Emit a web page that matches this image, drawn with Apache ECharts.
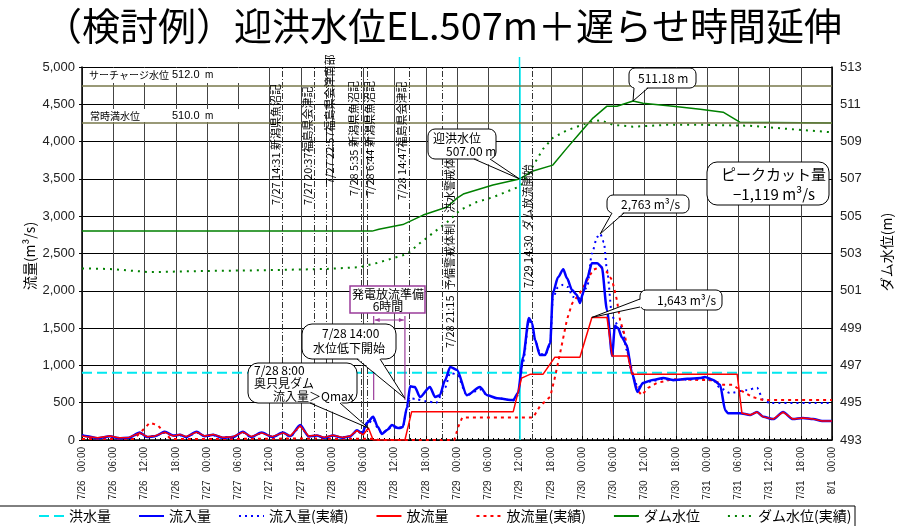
<!DOCTYPE html>
<html><head><meta charset="utf-8">
<script src="https://cdn.jsdelivr.net/npm/echarts@6.0.0/dist/echarts.min.js"></script>
<style>html,body{margin:0;padding:0;background:#fff;}#chart{width:897px;height:526px;}</style>
</head><body><div id="chart"></div>
<script>
// ---------------- DATA ----------------
const titleText = '（検討例）迎洪水位EL.507m＋遅らせ時間延伸';
// x = hours since 7/26 00:00
const tickLabels = ['7/26   00:00','7/26   06:00','7/26   12:00','7/26   18:00',
  '7/27   00:00','7/27   06:00','7/27   12:00','7/27   18:00',
  '7/28   00:00','7/28   06:00','7/28   12:00','7/28   18:00',
  '7/29   00:00','7/29   06:00','7/29   12:00','7/29   18:00',
  '7/30   00:00','7/30   06:00','7/30   12:00','7/30   18:00',
  '7/31   00:00','7/31   06:00','7/31   12:00','7/31   18:00','8/1   00:00'];
const levelTicks = [493,495,497,499,501,503,505,507,509,511,513];
const seriesNames = ['洪水量','流入量','流入量(実績)','放流量','放流量(実績)','ダム水位','ダム水位(実績)'];

const floodFlow = [[0,900],[144,900]];

const inflowSim = [[0,60],[1,50],[3,25],[5.4,50],[7,25],[9,30],[11.1,100],[12.5,40],[14,50],[15.9,110],[17.5,60],[18.8,70],[20,40],[22,110],[23.5,50],[25.2,70],[27,30],[29,40],[30.9,110],[32.5,40],[34.5,100],[36.5,40],[38.6,100],[40,50],[41.9,200],[43.5,50],[45.1,60],[46.5,30],[48.2,60],[50,30],[51.5,50],[52.8,130],[53.8,90],[54.7,230],[55.9,310],[56.8,175],[57.6,80],[58.6,135],[59.5,200],[60.7,160],[61.6,175],[62.4,440],[63,720],[63.9,710],[64.9,575],[66.8,710],[67.8,575],[68.7,600],[69.7,800],[70.7,980],[72,940],[73.9,600],[76.4,710],[77.8,600],[79.7,560],[82.8,535],[83.7,630],[84.7,1110],[85.8,1635],[86.4,1570],[87,1340],[87.9,1140],[88.9,1140],[89.9,1300],[90.4,1970],[91.4,2180],[92.4,2290],[93.1,2170],[94.1,2010],[95,1945],[95.6,1835],[96.2,1970],[97,2170],[97.9,2370],[98.9,2370],[99.8,2320],[100.8,1740],[101.8,1125],[102.3,1530],[102.9,1500],[103.7,1370],[104.6,1270],[105.6,900],[106.6,645],[107.7,765],[109.6,805],[111.6,830],[113.5,805],[116.2,820],[118.7,830],[119.6,845],[121.2,805],[122.5,740],[123.5,400],[124,360],[126.3,360],[128.3,335],[129.6,375],[130.8,310],[132.7,280],[134.6,375],[136.5,280],[138.4,295],[140.4,280],[142.1,255],[144,255]];

const inflowObs = [[0,70],[1,45],[3,20],[5.4,45],[7,30],[9,25],[11.1,90],[12.5,45],[14,55],[15.9,100],[17.5,55],[18.8,65],[20,35],[22,100],[23.5,55],[25.2,60],[27,35],[29,45],[30.9,100],[32.5,35],[34.5,95],[36.5,45],[38.6,90],[40,45],[41.9,180],[43.5,55],[45.1,55],[46.5,35],[48.2,55],[50,35],[51.5,45],[52.8,120],[53.8,80],[54.7,200],[55.9,280],[56.8,160],[57.6,90],[58.6,130],[59.5,180],[60.7,150],[61.6,170],[62.4,420],[63,560],[64,550],[66,520],[68,500],[69.7,700],[70.7,900],[72,880],[73.9,600],[76.4,680],[77.8,600],[79.7,560],[82.8,530],[83.7,600],[84.7,1050],[85.8,1600],[86.4,1550],[87,1330],[88,1150],[89,1150],[89.9,1280],[90.4,1900],[91.4,2050],[92.4,2080],[93.3,2050],[94.2,1920],[95.6,1900],[97,2050],[97.9,2500],[98.9,2720],[99.5,2763],[100.2,2650],[100.8,2280],[101.8,1650],[102.9,1540],[103.7,1510],[104.6,1200],[105.8,840],[106.8,700],[107.7,760],[109.6,790],[111.6,820],[113.5,800],[116.2,810],[118.7,820],[121.2,800],[122.5,700],[124.4,630],[127.7,670],[129.6,700],[130.8,535],[132.1,495],[144,495]];

const outflowSim = [[0,55],[1,45],[3,30],[5.4,55],[7,30],[9,35],[11.1,95],[12.5,45],[14,55],[15.9,105],[17.5,55],[18.8,75],[20,45],[22,105],[23.5,55],[25.2,75],[27,35],[29,45],[30.9,105],[32.5,45],[34.5,95],[36.5,45],[38.6,95],[40,55],[41.9,190],[43.5,55],[45.1,65],[46.5,35],[48.2,65],[50,35],[51.5,55],[52.8,125],[54,70],[55,160],[55.9,0],[62,0],[63.3,380],[82.8,380],[84.4,830],[86,880],[88.5,880],[90.8,1110],[95.6,1110],[97.9,1643],[100.8,1643],[101.8,1125],[104.8,1125],[105.6,880],[125.8,880],[126.7,360],[128.3,335],[129.6,375],[130.8,310],[132.7,280],[134.6,375],[136.5,280],[138.4,295],[140.4,280],[142.1,255],[144,255]];

const outflowObs = [[0,15],[10,15],[11.5,120],[13,230],[14.5,200],[16,90],[17,15],[30,15],[42,20],[56,15],[57,0],[71.5,0],[72.2,170],[73,300],[86.6,300],[87.9,450],[89.9,580],[90.8,840],[91.8,1165],[93.1,1610],[94.1,1830],[95.6,1970],[97,2140],[98.1,2280],[99.5,2320],[100.8,2250],[101.8,2140],[102.7,1875],[103.3,1610],[104.3,1380],[104.8,1165],[105.8,880],[106.6,670],[107.5,600],[108.7,700],[110.4,765],[113.5,815],[118.7,805],[121.2,800],[123.1,740],[125,740],[126.3,670],[128.8,575],[130.8,535],[144,535]];

const levelSim = [[0,504.2],[55.7,504.2],[57,504.3],[61.6,504.55],[65.5,505.06],[70.1,505.49],[72,505.97],[73.2,506.19],[78.9,506.67],[84,507.0],[86.6,507.42],[90.4,507.74],[93.1,508.65],[95.6,509.46],[98.1,510.26],[100.8,510.9],[102.7,510.9],[105.8,511.18],[107.7,511.06],[113.5,510.9],[118.7,510.74],[123.1,510.58],[126.3,510.04],[144,510.0]];

const levelObs = [[0,502.2],[5.4,502.17],[13,502.0],[22.7,502.06],[34.2,502.1],[47,502.17],[53.4,502.27],[56.6,502.49],[62.4,502.97],[64.9,503.56],[67.4,504.1],[70.1,504.68],[72.6,505.33],[75.8,505.76],[78.9,506.02],[84.1,506.6],[86.6,507.7],[88.5,508.6],[90.4,509.2],[93.1,509.6],[97,510.0],[99.5,510.15],[102,509.9],[105.8,509.8],[112.3,509.9],[118.7,509.9],[128.3,509.85],[134.6,509.7],[144,509.5]];

const surchargeLevel = 512.0;
const normalLevel = 510.0;
const dischargeStartHour = 84;   // cyan line 7/29 12:00
const eventHours = [38.52, 44.62, 46.95, 53.58, 54.73, 62.78, 69.25, 86.5];
const eventLabels = ['7/27 14:31 新潟県魚沼記','7/27 20:37福島県会津記','7/27 22:57福島県会津南部','7/28 5:35 新潟県魚沼記','7/28 6:44 新潟県魚沼記','7/28 14:47福島県会津記','7/28 21:15','7/29 14:30  ダム放流開始'];
const prepHours = [56, 62];

// ---------------- CHART ----------------
const FONT = "'Liberation Sans', 'Noto Sans CJK JP', sans-serif";
const JP = "'Noto Sans CJK JP', sans-serif";
const chart = echarts.init(document.getElementById('chart'));

const dash = [6,2,1,2];
const option = {
  animation: false,
  grid: {left: 82, right: 65, top: 67, bottom: 86},
  legend: {
    left: 38, top: 509, padding: 0, itemWidth: 25, itemHeight: 10, itemGap: 27,
    itemStyle: {opacity: 0, borderWidth: 0},
    textStyle: {fontSize: 14, color: '#000', fontFamily: JP},
    data: seriesNames
  },
  xAxis: {
    type: 'value', min: 0, max: 144, interval: 6,
    axisLine: {lineStyle: {color: '#000', width: 1.5}},
    axisTick: {inside: true, length: 4, lineStyle: {color: '#000'}},
    minorTick: {show: true, splitNumber: 6, length: 2, lineStyle: {color: '#000'}},
    splitLine: {show: true, lineStyle: {color: '#444', width: 1}},
    axisLabel: {rotate: 90, fontSize: 10, color: '#222', margin: 7, fontFamily: FONT,
      formatter: v => tickLabels[Math.round(v / 6)]}
  },
  yAxis: [{
    type: 'value', min: 0, max: 5000, interval: 500, position: 'left',
    axisLine: {show: true, lineStyle: {color: '#000', width: 1.5}},
    axisTick: {show: true, length: 3, lineStyle: {color: '#000'}},
    splitLine: {lineStyle: {color: '#000', width: 1}},
    axisLabel: {fontSize: 13, color: '#222', margin: 7, fontFamily: FONT,
      formatter: v => v.toLocaleString('en-US')}
  }, {
    type: 'value', min: 493, max: 513, position: 'right',
    axisLine: {show: true, lineStyle: {color: '#000', width: 1.5}},
    axisTick: {show: true, inside: true, length: 4, customValues: levelTicks, lineStyle: {color: '#000'}},
    splitLine: {show: false},
    axisLabel: {fontSize: 13, color: '#222', margin: 8, fontFamily: FONT, customValues: levelTicks}
  }],
  series: [
    {name: seriesNames[0], type: 'line', data: floodFlow, symbol: 'none', z: 3,
      lineStyle: {color: '#00e8f0', width: 2, type: [10, 5]}, itemStyle: {color: '#00e8f0'},
      markLine: {symbol: 'none', silent: true, label: {show: false},
        data: eventHours.map(h => ({xAxis: h, lineStyle: {color: '#333', width: 1, type: dash}}))
          .concat([{xAxis: dischargeStartHour, lineStyle: {color: '#00e8f0', width: 1.5, type: 'solid'}}])}
    },
    {name: seriesNames[1], type: 'line', data: inflowSim, symbol: 'none', smooth: 0.25, smoothMonotone: 'x', z: 5,
      lineStyle: {color: '#0000ff', width: 2.5}, itemStyle: {color: '#0000ff'}},
    {name: seriesNames[2], type: 'line', data: inflowObs, symbol: 'none', smooth: 0.25, smoothMonotone: 'x', z: 4,
      lineStyle: {color: '#0000ff', width: 2, type: [2, 4]}, itemStyle: {color: '#0000ff'}},
    {name: seriesNames[3], type: 'line', data: outflowSim, symbol: 'none', z: 6,
      lineStyle: {color: '#ff0000', width: 1.5}, itemStyle: {color: '#ff0000'}},
    {name: seriesNames[4], type: 'line', data: outflowObs, symbol: 'none', z: 4,
      lineStyle: {color: '#ff0000', width: 2, type: [3, 4]}, itemStyle: {color: '#ff0000'}},
    {name: seriesNames[5], type: 'line', yAxisIndex: 1, data: levelSim, symbol: 'none', z: 4,
      lineStyle: {color: '#008000', width: 1.5}, itemStyle: {color: '#008000'},
      markLine: {symbol: 'none', silent: true, label: {show: false},
        lineStyle: {color: '#77774a', width: 1.5, type: 'solid'},
        data: [{yAxis: surchargeLevel}, {yAxis: normalLevel}]}},
    {name: seriesNames[6], type: 'line', yAxisIndex: 1, data: levelObs, symbol: 'none', z: 4,
      lineStyle: {color: '#008000', width: 2, type: [2, 5]}, itemStyle: {color: '#008000'}}
  ]
};
chart.setOption(option);

// ---------------- ANNOTATIONS ----------------
function pf(h, v) { return chart.convertToPixel({xAxisIndex: 0, yAxisIndex: 0}, [h, v]); }
function pl(h, v) { return chart.convertToPixel({xAxisIndex: 0, yAxisIndex: 1}, [h, v]); }
const yTop = pf(0, 5000)[1], yBot = pf(0, 0)[1];
const G = [];
let Z = 100;
function txt(t, x, y, size, opts) {
  opts = opts || {};
  G.push({type: 'text', x: x, y: y, rotation: opts.rot || 0, z: Z++,
    style: {text: t, fontSize: size, fontFamily: opts.font || JP, fill: opts.fill || '#000',
      align: opts.align || 'left', verticalAlign: opts.va || 'middle', fontWeight: 'normal'}});
}
function rect(x, y, w, h, stroke, r, lw) {
  G.push({type: 'rect', z: Z++, shape: {x: x, y: y, width: w, height: h, r: r || 0},
    style: {fill: '#fff', stroke: stroke || null, lineWidth: lw || 1}});
}
function callout(box, base, tip, lines, inset) {
  rect(box[0], box[1], box[2], box[3], '#000', box[4] || 6, 1);
  if (tip) {
    const ins = inset || [0, -1.5];
    G.push({type: 'polygon', z: Z++, shape: {points: [[base[0][0] + ins[0], base[0][1] + ins[1]], tip, [base[1][0] + ins[0], base[1][1] + ins[1]]]},
      style: {fill: '#fff', stroke: null}});
    G.push({type: 'polyline', z: Z++, shape: {points: [base[0], tip, base[1]]}, style: {stroke: '#000', lineWidth: 1, fill: null}});
  }
  lines.forEach(l => txt(l[0], l[1], l[2], l[3]));
}

// title
txt(titleText, 443, 26, 38, {align: 'center'});
// axis names
txt('流量(m³/s)', 30, 256, 14, {rot: Math.PI / 2, align: 'center'});
txt('ダム水位(m)', 887, 252, 14, {rot: Math.PI / 2, align: 'center'});

// level reference labels
rect(83, 68, 182, 15, null);
txt('サーチャージ水位', 89, 75, 10);
txt('512.0', 172, 75, 11, {font: FONT});
txt('m', 205, 75, 10, {font: FONT});
rect(83, 109, 162, 13, null);
txt('常時満水位', 90, 116, 10);
txt('510.0', 172, 116, 11, {font: FONT});
txt('m', 205, 116, 10, {font: FONT});

// event labels (vertical text)
const evOff = [-7, -7, 3, -7, 3, -7, 7, -5];
const evBottom = [205, 205, 184, 196, 196, 200, 348, 288];
eventHours.forEach((h, i) => {
  const x = pf(h, 0)[0] + evOff[i];
  txt(eventLabels[i], x, evBottom[i], 11, {rot: Math.PI / 2});
});
txt('予備警戒体制、洪水警戒体制', pf(eventHours[6], 0)[0] + 7, 290, 11, {rot: Math.PI / 2});

// cyan line extension above plot
const cx = pf(dischargeStartHour, 0)[0];
G.push({type: 'line', z: Z++, shape: {x1: cx, y1: 57, x2: cx, y2: yTop}, style: {stroke: '#00e8f0', lineWidth: 1.5}});

// purple preparation annotation
const p1 = pf(prepHours[0], 0)[0], p2 = pf(prepHours[1], 0)[0];
const purple = '#9b3c9b';
G.push({type: 'line', z: Z++, shape: {x1: p1, y1: 316, x2: p1, y2: 400}, style: {stroke: purple, lineWidth: 1.2}});
G.push({type: 'line', z: Z++, shape: {x1: p2, y1: 316, x2: p2, y2: 400}, style: {stroke: purple, lineWidth: 1.2}});
G.push({type: 'line', z: Z++, shape: {x1: p1 + 1, y1: 320, x2: p2 - 1, y2: 320}, style: {stroke: purple, lineWidth: 1}});
G.push({type: 'polygon', z: Z++, shape: {points: [[p1 + 1, 320], [p1 + 6, 318], [p1 + 6, 322]]}, style: {fill: purple}});
G.push({type: 'polygon', z: Z++, shape: {points: [[p2 - 1, 320], [p2 - 6, 318], [p2 - 6, 322]]}, style: {fill: purple}});
G.push({type: 'rect', z: Z++, shape: {x: 350, y: 286, width: 75, height: 27}, style: {fill: '#fff', stroke: purple, lineWidth: 1.5}});
txt('発電放流準備', 388, 294, 12, {align: 'center'});
txt('6時間', 388, 306, 12, {align: 'center'});

// callouts
callout([428, 129, 68, 30, 7], [[474, 159], [490, 159]], pl(84, 507.0), [['迎洪水位', 433, 138, 12], ['507.00 m', 446, 151, 12]]);
callout([629, 68, 67, 20, 6], [[634, 88], [648, 88]], pl(105.8, 511.18), [['511.18 m', 638, 78, 12]]);
callout([707, 162, 122, 43, 10], null, null, [['ピークカット量', 721, 174, 15], ['−1,119 m³/s', 733, 194, 15]]);
callout([607, 195, 82, 18, 6], [[612, 213], [624, 213]], pf(99.5, 2763), [['2,763 m³/s', 621, 204, 12]]);
callout([640, 290, 82, 20, 6], [[640, 299], [640, 307]], pf(97.9, 1643), [['1,643 m³/s', 657, 300, 12]], [1.5, 0]);
callout([302, 324, 94, 35, 10], [[357, 359], [380, 359]], pf(62, 560), [['7/28 14:00', 322, 333, 12], ['水位低下開始', 313, 348, 12]]);
callout([248, 363, 109, 40, 10], [[310, 403], [340, 403]], pf(55, 160), [['7/28 8:00', 254, 370, 12], ['奥只見ダム', 254, 383, 12], ['流入量＞Qmax', 273, 396, 12]]);

// legend frame
G.push({type: 'rect', z: 1, shape: {x: -1, y: 506, width: 856, height: 30}, style: {fill: null, stroke: '#000', lineWidth: 1}});

chart.setOption({graphic: G});
</script>
</body></html>
